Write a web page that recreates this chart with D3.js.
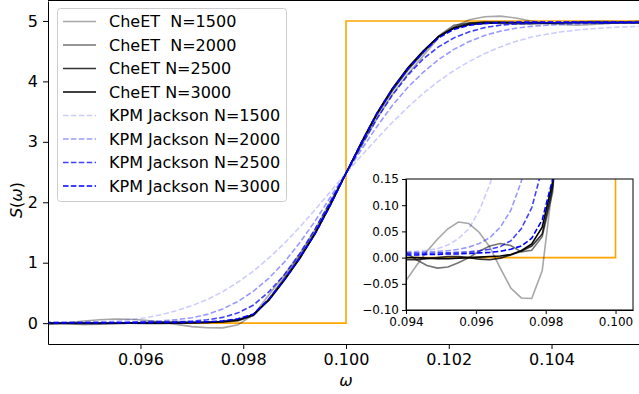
<!DOCTYPE html>
<html>
<head>
<meta charset="utf-8">
<script src="https://cdn.jsdelivr.net/npm/d3@7"></script>
<style>
body { margin: 0; background: #fff; }
svg { font-family: "DejaVu Sans", sans-serif; display: block; }
</style>
</head>
<body>
<div class="container"></div>
<script>
var WIDTH = 639, HEIGHT = 394;

// frequency grid shared by every curve
var omega = [0.0940, 0.0943, 0.0946, 0.0949, 0.0952, 0.0955, 0.0958, 0.0961, 0.0964, 0.0967,
             0.0970, 0.0973, 0.0976, 0.0979, 0.0982, 0.0985, 0.0988, 0.0991, 0.0994, 0.0997,
             0.1000, 0.1003, 0.1006, 0.1009, 0.1012, 0.1015, 0.1018, 0.1021, 0.1024, 0.1027,
             0.1030, 0.1033, 0.1036, 0.1039, 0.1042, 0.1045, 0.1048, 0.1051, 0.1054, 0.1057, 0.1060];

var cheet1500 = [-0.044, -0.015, 0.012, 0.035, 0.055, 0.068, 0.065, 0.048, 0.02, -0.02,
                 -0.058, -0.077, -0.078, -0.025, 0.14, 0.47, 0.8, 1.15, 1.55, 2.02,
                 2.48, 2.93, 3.38, 3.78, 4.12, 4.42, 4.72, 4.9, 5.02, 5.07,
                 5.08, 5.05, 5.0, 4.96, 4.94, 4.93, 4.94, 4.96, 4.98, 5.0, 5.01];
var cheet2000 = [0.009, -0.004, -0.015, -0.02, -0.018, -0.01, 0.0, 0.012, 0.022, 0.027,
                 0.023, 0.011, 0.014, 0.04, 0.125, 0.4, 0.75, 1.11, 1.51, 1.98,
                 2.48, 2.97, 3.44, 3.84, 4.18, 4.47, 4.75, 4.93, 4.97, 4.975,
                 4.96, 4.95, 4.95, 4.96, 4.97, 4.98, 4.99, 4.99, 4.985, 4.975, 4.96];
var cheet2500 = [-0.004, -0.004, -0.002, 0.0, 0.002, 0.002, 0.0, -0.003, -0.004, -0.001,
                 0.005, 0.012, 0.022, 0.045, 0.135, 0.39, 0.72, 1.08, 1.49, 1.97,
                 2.48, 2.98, 3.46, 3.86, 4.2, 4.49, 4.74, 4.89, 4.96, 4.98,
                 4.98, 4.975, 4.97, 4.97, 4.97, 4.975, 4.975, 4.97, 4.97, 4.97, 4.97];
var cheet3000 = [0.0, 0.0, -0.001, -0.002, -0.002, -0.001, 0.0, 0.001, 0.002, 0.003,
                 0.006, 0.013, 0.026, 0.058, 0.145, 0.38, 0.71, 1.07, 1.48, 1.96,
                 2.48, 2.99, 3.47, 3.88, 4.22, 4.5, 4.74, 4.88, 4.94, 4.96,
                 4.97, 4.97, 4.97, 4.97, 4.97, 4.97, 4.97, 4.97, 4.97, 4.97, 4.97];

var kpm1500 = [0.011, 0.012, 0.014, 0.017, 0.024, 0.036, 0.055, 0.09, 0.14, 0.205,
               0.29, 0.39, 0.52, 0.68, 0.86, 1.08, 1.32, 1.59, 1.88, 2.18,
               2.48, 2.77, 3.05, 3.32, 3.57, 3.8, 4.0, 4.18, 4.33, 4.46,
               4.57, 4.66, 4.73, 4.78, 4.82, 4.85, 4.87, 4.89, 4.9, 4.91, 4.92];
var kpm2000 = [0.01, 0.01, 0.011, 0.012, 0.013, 0.016, 0.02, 0.027, 0.038, 0.058,
               0.09, 0.145, 0.235, 0.36, 0.53, 0.745, 1.01, 1.33, 1.69, 2.09,
               2.48, 2.87, 3.25, 3.6, 3.9, 4.15, 4.36, 4.53, 4.66, 4.76,
               4.83, 4.88, 4.91, 4.93, 4.94, 4.95, 4.96, 4.96, 4.97, 4.97, 4.97];
var kpm2500 = [0.008, 0.008, 0.008, 0.009, 0.009, 0.01, 0.011, 0.013, 0.016, 0.021,
               0.032, 0.055, 0.095, 0.17, 0.3, 0.52, 0.8, 1.15, 1.56, 2.02,
               2.48, 2.94, 3.38, 3.77, 4.1, 4.37, 4.57, 4.72, 4.82, 4.89,
               4.93, 4.95, 4.96, 4.97, 4.97, 4.97, 4.97, 4.97, 4.97, 4.97, 4.97];
var kpm3000 = [0.005, 0.005, 0.006, 0.006, 0.007, 0.007, 0.008, 0.009, 0.01, 0.012,
               0.016, 0.022, 0.037, 0.072, 0.15, 0.4, 0.72, 1.08, 1.48, 1.96,
               2.48, 2.99, 3.47, 3.87, 4.2, 4.48, 4.72, 4.86, 4.93, 4.96,
               4.97, 4.98, 4.98, 4.98, 4.98, 4.98, 4.98, 4.98, 4.98, 4.98, 4.98];

// exact step
var stepOmega = [0.0935, 0.1, 0.1, 0.1065];
var stepS = [0, 0, 5, 5];

var labels = ["CheET  N=1500", "CheET  N=2000", "CheET N=2500", "CheET N=3000",
              "KPM Jackson N=1500", "KPM Jackson N=2000", "KPM Jackson N=2500", "KPM Jackson N=3000"];
var values = [cheet1500, cheet2000, cheet2500, cheet3000, kpm1500, kpm2000, kpm2500, kpm3000];

var xTicks = [0.096, 0.098, 0.100, 0.102, 0.104];
var yTicks = [0, 1, 2, 3, 4, 5];
var insetXTicks = [0.094, 0.096, 0.098, 0.100];
var insetYTicks = [-0.10, -0.05, 0.00, 0.05, 0.10, 0.15];

var styleOf = function(i){
	var cheet = i < 4;
	var alpha = cheet ? [0.35, 0.55, 0.8, 1][i] : [0.2, 0.4, 0.75, 1][i-4];
	return {color: cheet ? "#000" : "#00f", alpha: alpha, dash: cheet ? null : "5.5,2.4"};
}

var svg = d3.select(".container").append("svg")
	.attr("width", WIDTH).attr("height", HEIGHT);

var defs = svg.append("defs");

var drawCurves = function(g, x, y){
	var line = d3.line().x(function(d){ return x(d[0]); }).y(function(d){ return y(d[1]); });
	g.append("path")
		.attr("d", line(d3.zip(stepOmega, stepS)))
		.attr("fill", "none").attr("stroke", "#ffa500").attr("stroke-width", 1.6);
	values.forEach(function(v, i){
		var s = styleOf(i);
		g.append("path")
			.attr("d", line(d3.zip(omega, v)))
			.attr("fill", "none")
			.attr("stroke", s.color)
			.attr("stroke-opacity", s.alpha)
			.attr("stroke-width", 1.6)
			.attr("stroke-dasharray", s.dash);
	});
}

var styleAxis = function(g, size){
	g.selectAll("text").attr("font-size", size).attr("fill", "#000")
		.attr("font-family", "DejaVu Sans");
	g.selectAll("line").attr("stroke", "#000");
	g.select(".domain").attr("stroke", "#000");
}

// main axes
var mLeft = 48, mRight = 644, mTop = 1, mBottom = 344;
var x = d3.scaleLinear().domain([0.0942, 0.1058]).range([mLeft, mRight]);
var y = d3.scaleLinear().domain([-0.345, 5.33]).range([mBottom, mTop]);

defs.append("clipPath").attr("id", "clipMain").append("rect")
	.attr("x", mLeft).attr("y", mTop).attr("width", mRight-mLeft).attr("height", mBottom-mTop);

var main = svg.append("g").attr("clip-path", "url(#clipMain)");
drawCurves(main, x, y);

var gx = svg.append("g").attr("transform", "translate(0,"+mBottom+")")
	.call(d3.axisBottom(x).tickValues(xTicks).tickFormat(d3.format(".3f"))
		.tickSize(5).tickPadding(5).tickSizeOuter(0));
styleAxis(gx, 16);
var gy = svg.append("g").attr("transform", "translate("+mLeft+",0)")
	.call(d3.axisLeft(y).tickValues(yTicks).tickFormat(d3.format("d"))
		.tickSize(5).tickPadding(5).tickSizeOuter(0));
styleAxis(gy, 16);
svg.append("line").attr("x1", mLeft).attr("x2", mRight).attr("y1", mTop-0.5).attr("y2", mTop-0.5)
	.attr("stroke", "#000");

svg.append("text").attr("x", 346).attr("y", 386).attr("text-anchor", "middle")
	.attr("font-size", 16).attr("font-style", "italic").text("ω");
var yl = svg.append("text").attr("transform", "translate(22,200) rotate(-90)")
	.attr("text-anchor", "middle").attr("font-size", 16);
yl.append("tspan").attr("font-style", "italic").text("S");
yl.append("tspan").text("(");
yl.append("tspan").attr("font-style", "italic").text("ω");
yl.append("tspan").text(")");

// legend
var legend = svg.append("g");
legend.append("rect").attr("x", 57.5).attr("y", 8.5).attr("width", 229).attr("height", 193)
	.attr("rx", 3).attr("fill", "#fff").attr("fill-opacity", 0.8)
	.attr("stroke", "#ccc").attr("stroke-width", 1);
labels.forEach(function(t, i){
	var s = styleOf(i);
	var cy = 21.5 + i*23.5;
	legend.append("line").attr("x1", 63).attr("x2", 96).attr("y1", cy).attr("y2", cy)
		.attr("stroke", s.color).attr("stroke-opacity", s.alpha).attr("stroke-width", 1.6)
		.attr("stroke-dasharray", s.dash);
	legend.append("text").attr("x", 109).attr("y", cy).attr("dy", "0.36em")
		.attr("font-size", 16).style("white-space", "pre").text(t);
});

// inset
var il = 406, ir = 633, it = 179, ib = 310;
var xi = d3.scaleLinear().domain([0.094, 0.1005]).range([il, ir]);
var yi = d3.scaleLinear().domain([-0.10, 0.15]).range([ib, it]);

svg.append("rect").attr("x", il).attr("y", it).attr("width", ir-il).attr("height", ib-it)
	.attr("fill", "#fff");
defs.append("clipPath").attr("id", "clipInset").append("rect")
	.attr("x", il).attr("y", it).attr("width", ir-il).attr("height", ib-it);
var inset = svg.append("g").attr("clip-path", "url(#clipInset)");
drawCurves(inset, xi, yi);

svg.append("rect").attr("x", il).attr("y", it).attr("width", ir-il).attr("height", ib-it)
	.attr("fill", "none").attr("stroke", "#000").attr("stroke-width", 1);
var gxi = svg.append("g").attr("transform", "translate(0,"+ib+")")
	.call(d3.axisBottom(xi).tickValues(insetXTicks).tickFormat(d3.format(".3f"))
		.tickSize(4).tickPadding(3).tickSizeOuter(0));
styleAxis(gxi, 12);
var gyi = svg.append("g").attr("transform", "translate("+il+",0)")
	.call(d3.axisLeft(yi).tickValues(insetYTicks).tickFormat(d3.format(".2f"))
		.tickSize(4).tickPadding(3).tickSizeOuter(0));
styleAxis(gyi, 12);
</script>
</body>
</html>
